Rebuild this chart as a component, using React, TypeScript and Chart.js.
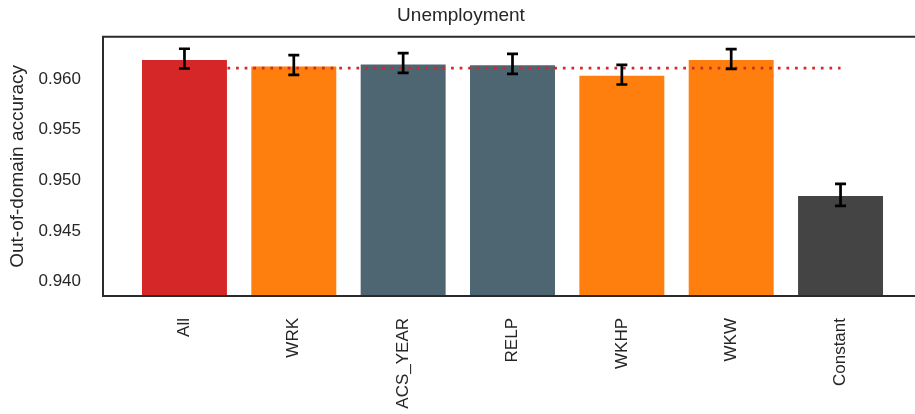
import React, { useEffect, useRef } from "react";
import { Chart, registerables } from "chart.js";

Chart.register(...registerables);

const categories = ["All", "WRK", "ACS_YEAR", "RELP", "WKHP", "WKW", "Constant"];
const accuracy = [0.96188, 0.96125, 0.96144, 0.96138, 0.96033, 0.96188, 0.94847];
const errHigh = [0.963, 0.96237, 0.96257, 0.9625, 0.96141, 0.96296, 0.94965];
const errLow = [0.96105, 0.96042, 0.96062, 0.96052, 0.95947, 0.96102, 0.94748];
const barColors = ["#d62728", "#ff7f0e", "#4e6572", "#4e6572", "#ff7f0e", "#ff7f0e", "#444444"];
const referenceValue = 0.96109;
const yTicks = [0.94, 0.945, 0.95, 0.955, 0.96];
const yMin = 0.938587;
const yMax = 0.96418;

const FONT = "'Liberation Sans', Arial, Helvetica, sans-serif";
const TEXT = "#262626";

const framePlugin = {
  id: "frame",
  afterDatasetsDraw(chart: any) {
    const { ctx, chartArea, scales } = chart;
    const xs = scales.x;
    const ys = scales.y;
    ctx.save();
    // error bars
    ctx.strokeStyle = "#000";
    ctx.lineWidth = 2.7;
    ctx.lineCap = "butt";
    categories.forEach((_, i) => {
      const x = xs.getPixelForValue(i);
      const y1 = ys.getPixelForValue(errHigh[i]);
      const y2 = ys.getPixelForValue(errLow[i]);
      ctx.beginPath();
      ctx.moveTo(x, y1);
      ctx.lineTo(x, y2);
      ctx.moveTo(x - 5.5, y1);
      ctx.lineTo(x + 5.5, y1);
      ctx.moveTo(x - 5.5, y2);
      ctx.lineTo(x + 5.5, y2);
      ctx.stroke();
    });
    // frame
    ctx.strokeStyle = "#2b2b2b";
    ctx.lineWidth = 2;
    ctx.beginPath();
    ctx.moveTo(chartArea.left, chartArea.bottom);
    ctx.lineTo(chartArea.left, chartArea.top);
    ctx.lineTo(chartArea.right, chartArea.top);
    ctx.moveTo(chartArea.left - 1, chartArea.bottom);
    ctx.lineTo(chartArea.right, chartArea.bottom);
    ctx.stroke();
    ctx.restore();
  },
};

export default function App() {
  const ref = useRef<HTMLCanvasElement>(null);
  useEffect(() => {
    if (!ref.current) return;
    const chart = new Chart(ref.current, {
      type: "bar",
      data: {
        datasets: [
          {
            type: "line",
            data: [
              { x: 0, y: referenceValue },
              { x: categories.length - 1, y: referenceValue },
            ],
            borderColor: "#d62728",
            borderWidth: 2.7,
            borderDash: [2.7, 5.9],
            pointRadius: 0,
            order: 0,
          } as any,
          {
            type: "bar",
            data: categories.map((_, i) => ({ x: i, y: accuracy[i] })),
            backgroundColor: barColors,
            borderWidth: 0,
            barPercentage: 0.777,
            categoryPercentage: 1,
            order: 1,
          } as any,
        ],
      },
      options: {
        animation: false,
        responsive: false,
        maintainAspectRatio: false,
        layout: { padding: 0 },
        plugins: {
          legend: { display: false },
          tooltip: { enabled: false },
          title: {
            display: true,
            text: "Unemployment",
            color: TEXT,
            font: { family: FONT, size: 19, weight: "normal" as any },
            padding: { top: 4, bottom: 10 },
          },
        },
        scales: {
          x: {
            type: "linear",
            min: -0.745,
            max: 6.745,
            offset: false,
            grid: { display: false, drawTicks: false },
            border: { display: false },
            afterBuildTicks: (s: any) => {
              s.ticks = categories.map((_, i) => ({ value: i }));
            },
            afterFit: (s: any) => {
              s.height = 118;
            },
            ticks: {
              autoSkip: false,
              minRotation: 90,
              maxRotation: 90,
              padding: 22,
              color: TEXT,
              font: { family: FONT, size: 17 },
              callback: (v: any) => categories[Math.round(v)] ?? "",
            },
          },
          y: {
            type: "linear",
            min: yMin,
            max: yMax,
            grid: { display: false, drawTicks: false },
            border: { display: false },
            afterBuildTicks: (s: any) => {
              s.ticks = yTicks.map((v) => ({ value: v }));
            },
            afterFit: (s: any) => {
              s.width = 103;
            },
            ticks: {
              padding: 22,
              color: TEXT,
              font: { family: FONT, size: 17 },
              callback: (v: any) => Number(v).toFixed(3),
            },
            title: {
              display: true,
              text: "Out-of-domain accuracy",
              color: TEXT,
              font: { family: FONT, size: 19 },
              padding: { top: 6, bottom: 0 },
            },
          },
        },
      } as any,
      plugins: [framePlugin],
    });
    return () => chart.destroy();
  }, []);

  return (
    <div
      style={{
        position: "fixed",
        left: 0,
        top: 0,
        width: 915,
        height: 414,
        overflow: "hidden",
        background: "#fff",
      }}
    >
      <canvas ref={ref} width={922} height={414} style={{ display: "block", width: 922, height: 414 }} />
    </div>
  );
}
